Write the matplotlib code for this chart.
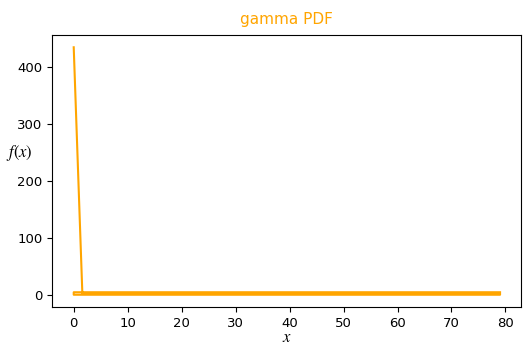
import numpy as np
import matplotlib
matplotlib.use("Agg")
import matplotlib.pyplot as plt

plt.rcParams['mathtext.fontset'] = 'stix'

# sampled points of the gamma pdf (unsorted sample order)
x_vals = [0.0, 1.6, 79.0, 79.0, 0.0, 0.0, 79.0]
y_vals = [435.0, 2.5, 2.5, 0.3, 0.3, 4.7, 4.7]

fig, ax = plt.subplots(figsize=(5.24, 3.49), dpi=100)
ax.plot(x_vals, y_vals, color='orange', linewidth=1.5)
ax.set_title('gamma PDF', color='orange', fontsize=11, pad=8)
ax.set_xlabel('$x$', fontsize=12, labelpad=-1)
ax.set_ylabel('$f(x)$', rotation=0, fontsize=12)
ax.yaxis.set_label_coords(-0.07, 0.53)
ax.set_xticks(np.arange(0, 81, 10))
ax.set_yticks(np.arange(0, 401, 100))
ax.tick_params(labelsize=9.5)
fig.subplots_adjust(left=0.1, right=0.995, top=0.9, bottom=0.12)
fig.savefig('out.png', dpi=100)
